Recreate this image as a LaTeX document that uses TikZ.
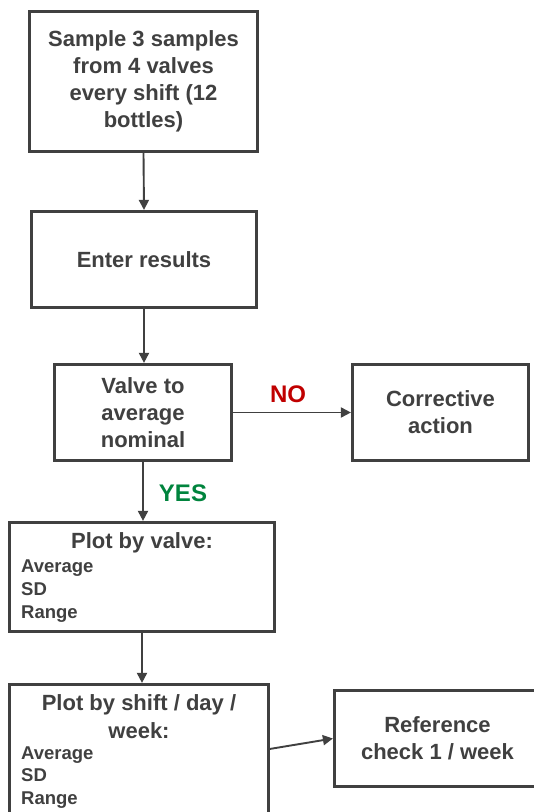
\documentclass[tikz,border=0pt]{standalone}
\usepackage{fontspec}
\setmainfont{Liberation Sans}
\usetikzlibrary{arrows.meta}
\definecolor{ink}{HTML}{404040}
\definecolor{nored}{HTML}{C00000}
\definecolor{yesgreen}{HTML}{00843D}
\tikzset{
  stepbox/.style={draw=ink, line width=3.2pt, fill=white, rectangle, inner sep=0pt,
    align=center, text=ink, font=\bfseries\fontsize{22}{27}\selectfont},
  flow/.style={draw=ink, line width=1.9pt, -{Triangle[length=10pt,width=10pt]}},
  title/.style={inner sep=0pt, align=center, text=ink, font=\bfseries\fontsize{22}{28}\selectfont},
  items/.style={inner sep=0pt, align=left, anchor=west, text=ink, font=\bfseries\fontsize{18.5}{22.8}\selectfont},
  answer/.style={inner sep=0pt, font=\bfseries\fontsize{24}{28}\selectfont},
}
\begin{document}
\begin{tikzpicture}[x=1pt,y=-1pt]
  \useasboundingbox (0,0) rectangle (534,812);
  \clip (0,0) rectangle (534,812);
  \fill[white] (0,0) rectangle (534,812);

  % process boxes
  \node[stepbox, minimum width=228pt, minimum height=140pt] (s1) at (143.5,81.5)
    {Sample 3 samples\\from 4 valves\\every shift (12\\bottles)};
  \node[stepbox, minimum width=225pt, minimum height=96pt] (s2) at (144,259.5)
    {Enter results};
  \node[stepbox, minimum width=177pt, minimum height=96pt] (s3) at (143,412.5)
    {Valve to\\average\\nominal};
  \node[stepbox, minimum width=176pt, minimum height=96pt] (s4) at (440.5,412.5)
    {Corrective\\action};
  \node[stepbox, minimum width=265pt, minimum height=109pt] (s5) at (142,577) {};
  \node[stepbox, minimum width=259pt, minimum height=146pt] (s6) at (139,757.5) {};
  \node[stepbox, minimum width=206pt, minimum height=96pt] (s7) at (437.5,738.5)
    {Reference\\check 1 / week};

  % texts of the plotting boxes
  \node[title] (s5t) at (142,543) {Plot by valve:};
  \node[items] (s5i) at (21,591) {Average\\SD\\Range};
  \node[title] (s6t) at (139,717) {Plot by shift / day /\\week:};
  \node[items] (s6i) at (21,777.5) {Average\\SD\\Range};

  % decision answers
  \node[answer, text=nored] (no) at (288,394) {NO};
  \node[answer, text=yesgreen] (yes) at (183,493) {YES};

  % connectors
  \draw[flow] (s1.south) -- (s2.north);
  \draw[flow] (s2.south) -- (s2.south |- s3.north);
  \draw[flow] (s3.east) -- (s4.west);
  \draw[flow] (s3.south) -- (s3.south |- s5.north);
  \draw[flow] (s5.south) -- (s5.south |- s6.north);
  \draw[flow] ([yshift=-66pt]s6.north east) -- (s7.west);
\end{tikzpicture}
\end{document}
